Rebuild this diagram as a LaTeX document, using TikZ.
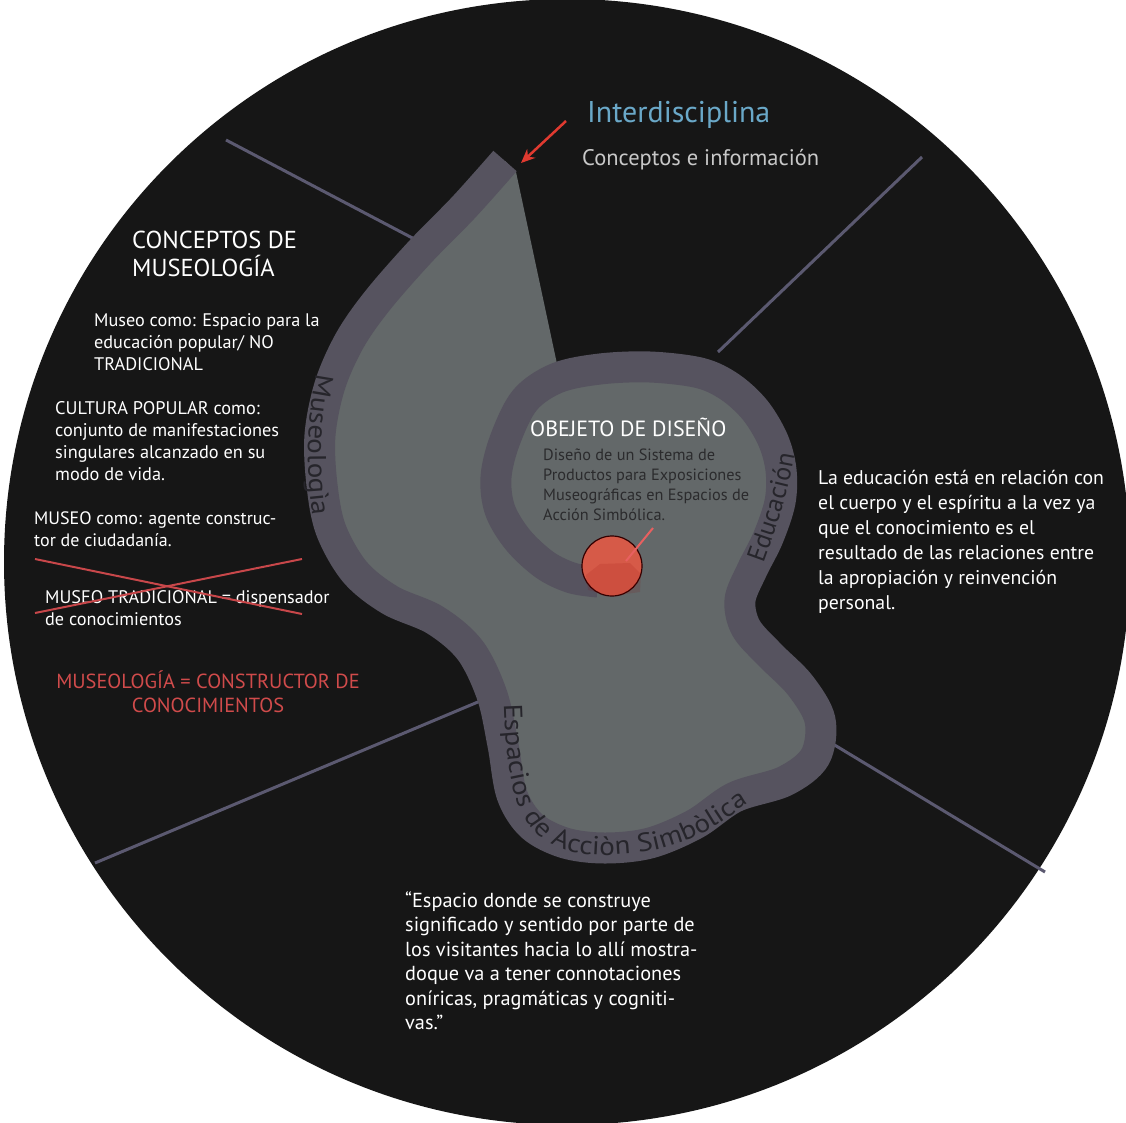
\documentclass[tikz,border=0pt]{standalone}
\usepackage{fontspec}
\setmainfont{PT Sans}
\newfontfamily\bandfont[FakeStretch=1.12]{PT Sans}
\usetikzlibrary{decorations.text,arrows.meta}
\definecolor{bg}{HTML}{161616}
\definecolor{bandc}{HTML}{56535F}
\definecolor{fillc}{HTML}{636869}
\definecolor{linec}{HTML}{5B5970}
\definecolor{bandtext}{HTML}{26252B}
\definecolor{redc}{HTML}{D65A48}
\definecolor{redline}{HTML}{E86060}
\definecolor{crossc}{HTML}{C8474A}
\definecolor{redtext}{HTML}{D04B4B}
\definecolor{bluet}{HTML}{6AA8C8}
\definecolor{greyt}{HTML}{C8C8C8}
\definecolor{darkt}{HTML}{2B2B2D}
\definecolor{arrowc}{HTML}{E03A30}
\newcommand{\fs}[2]{\fontsize{#1}{#2}\selectfont}
\tikzset{
  radial/.style={draw=linec, line width=3pt},
  band/.style={draw=bandc, line width=31pt, line cap=butt, line join=round},
  wt/.style={text=white, align=left, inner sep=0pt, anchor=base west},
  crossl/.style={draw=crossc, line width=2pt},
}
\begin{document}
\begin{tikzpicture}[x=1pt,y=-1pt]
\useasboundingbox (0,0) rectangle (1126,1122);
\fill[white] (0,0) rectangle (1126,1122);
\fill[bg] (567,562) circle[radius=563pt];

% radial lines
\coordinate (l1a) at (226,140); \coordinate (l1b) at (420,242);
\coordinate (l2a) at (922,157); \coordinate (l2b) at (718,352);
\coordinate (l3a) at (95,863);  \coordinate (l3b) at (485,699);
\coordinate (l4a) at (1045,872); \coordinate (l4b) at (818,735);
\draw[radial] (l1a) -- (l1b);
\draw[radial] (l2a) -- (l2b);
\draw[radial] (l3a) -- (l3b);
\draw[radial] (l4a) -- (l4b);

% light fill
\fill[fillc] plot[smooth, tension=0.55] coordinates {
 (505,161) (464,207) (420,252) (378,300) (350,340) (330,385) (320,435) (322,485)
 (331,530) (355,572) (390,600) (435,620) (470,650) (492,695) (503,745) (512,795)
 (532,826) (565,843) (605,848) (650,843) (695,824) (735,797) (785,781) (815,757)
 (820,720) (800,685) (770,655) (746,628) (740,600) (752,570) (768,538) (780,502)
 (781,470) (773,440) (755,410) (730,387) (700,373) (650,367) (600,369) (560,378)}
 -- (516,172) -- cycle;

% band
\draw[band] plot[smooth, tension=0.55] coordinates {
 (505,161) (464,207) (420,252) (378,300) (350,340) (330,385) (320,435) (322,485)
 (331,530) (355,572) (390,600) (435,620) (470,650) (492,695) (503,745) (512,795)
 (532,826) (565,843) (605,848) (650,843) (695,824) (735,797) (785,781) (815,757)
 (820,720) (800,685) (770,655) (746,628) (740,600) (752,570) (768,538) (780,502)
 (781,470) (773,440) (755,410) (730,387) (700,373) (650,367) (600,369) (557,378)
 (525,400) (505,440) (496,477) (500,510) (518,540) (545,565) (572,578) (598,582)};

% texts along the band
\path[decorate, decoration={text along path, text align=center, text color=bandtext,
  text={|\bandfont\fs{26}{26}|Museologìa}}]
  (318,364) .. controls (306,420) and (305,470) .. (314,526);
\path[decorate, decoration={text along path, text align=center, text color=bandtext,
  text={|\fs{26}{26}|Educación}}]
  (758,578) .. controls (776,530) and (789,492) .. (797,440);
\path[decorate, decoration={text along path, text align=left, text color=bandtext,
  text={|\bandfont\fs{26}{26}|Espacios de Acciòn Simbòlica}}]
  (504,704) .. controls (507,800) and (520,855) .. (605,855)
  .. controls (665,855) and (705,836) .. (738,810)
  .. controls (758,796) and (780,788) .. (810,782);

% object circle
\node[circle, draw=black!80!red, line width=1.2pt, fill=redc, minimum size=60pt, inner sep=0pt] (obj) at (612,566) {};
\fill[red!55!black, opacity=0.12] (586,575) -- (600,564) -- (630,563) -- (641,574) -- (640,592) -- (612,596) -- (588,590) -- cycle;
\coordinate (rl) at (653,528);
\draw[redline, line width=2pt] (626,561) -- (rl);

% title area
\node[wt, text=bluet, font=\fs{30}{34}] (inter) at (587,122) {Interdisciplina};
\node[wt, text=greyt, font=\fs{22.5}{26}] (conc) at (582,165) {Conceptos e información};
\coordinate (arS) at (566,121); \coordinate (arE) at (521,163);
\draw[draw=arrowc, line width=2.5pt, -{Stealth[length=14pt,width=12pt]}] (arS) -- (arE);

% left texts (anchored at the baseline of the last line)
\node[wt, font=\fs{24.5}{28}] (cm) at (132,276) {CONCEPTOS DE\\MUSEOLOGÍA};
\node[wt, font=\fs{18.2}{22}] (m1) at (94,370) {Museo como: Espacio para la\\educación popular/ NO\\TRADICIONAL};
\node[wt, font=\fs{18.3}{22}] (m2) at (55,480) {CULTURA POPULAR como:\\conjunto de manifestaciones\\singulares alcanzado en su\\modo de vida.};
\node[wt, font=\fs{18}{22}] (m3) at (34,546) {MUSEO como: agente construc-\\tor de ciudadanía.};
\node[wt, font=\fs{18.2}{22}] (m4) at (45,625) {MUSEO TRADICIONAL = dispensador\\de conocimientos};
\coordinate (c1a) at (35,559); \coordinate (c1b) at (302,614);
\coordinate (c2a) at (35,613); \coordinate (c2b) at (302,559);
\draw[crossl] (c1a) -- (c1b);
\draw[crossl] (c2a) -- (c2b);
\node[text=redtext, align=center, inner sep=0pt, anchor=base, font=\fs{20.4}{24}] (m5) at (208,712) {MUSEOLOGÍA = CONSTRUCTOR DE\\CONOCIMIENTOS};

% centre texts
\node[wt, font=\fs{22}{24}] (ot) at (530,436) {OBEJETO DE DISEÑO};
\node[wt, text=darkt, font=\fs{16.3}{20}] (od) at (543,520) {Diseño de un Sistema de\\Productos para Exposiciones\\Museográficas en Espacios de\\Acción Simbólica.};

% right text
\node[wt, font=\fs{19.8}{25}] (edu) at (818,609) {La educación está en relación con\\el cuerpo y el espíritu a la vez ya\\que el conocimiento es el\\resultado de las relaciones entre\\la apropiación y reinvención\\personal.};

% bottom quote
\node[wt, font=\fs{20.3}{24.5}] (q) at (405,1029.5) {“Espacio donde se construye\\significado y sentido por parte de\\los visitantes hacia lo allí mostra-\\doque va a tener connotaciones\\oníricas, pragmáticas y cogniti-\\vas.”};
\end{tikzpicture}
\end{document}
